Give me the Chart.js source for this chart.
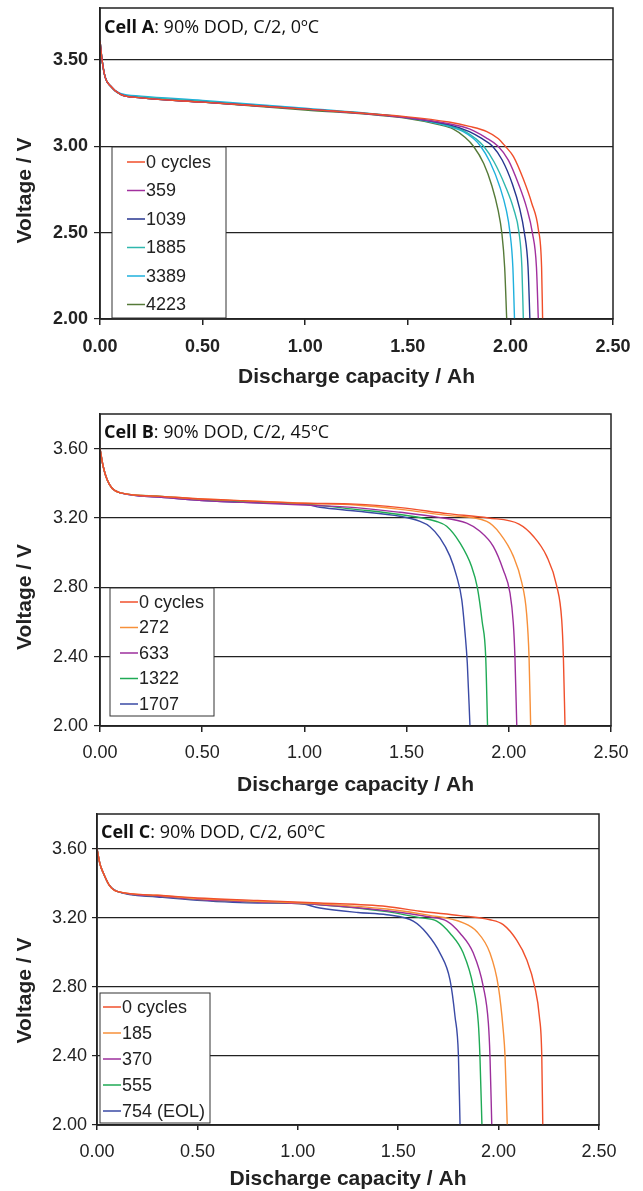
<!DOCTYPE html>
<html>
<head>
<meta charset="utf-8">
<script src="https://cdn.jsdelivr.net/npm/chart.js@4.4.1/dist/chart.umd.min.js"></script>
<style>
  body { margin: 0; background: #fff; width: 643px; height: 1191px; position: relative; overflow: hidden; }
  canvas { position: absolute; left: 0; }
</style>
</head>
<body>
<canvas id="cellA" width="643" height="400" style="top:-10px"></canvas>
<canvas id="cellB" width="643" height="405" style="top:390px"></canvas>
<canvas id="cellC" width="643" height="396" style="top:795px"></canvas>
<script>
// ---- Cell A : 90% DOD, C/2, 0 C ----
const capA0    = [0, 0.01, 0.025, 0.05, 0.1, 0.2, 0.5, 1.0, 1.5, 1.7, 1.8, 1.885, 1.94, 1.975, 2.015, 2.063, 2.104, 2.136, 2.152, 2.157];
const voltA0   = [3.61, 3.50, 3.40, 3.35, 3.30, 3.28, 3.255, 3.215, 3.17, 3.14, 3.115, 3.085, 3.045, 3.00, 2.94, 2.81, 2.67, 2.52, 2.30, 2.00];
const capA359  = [0, 0.01, 0.025, 0.05, 0.1, 0.2, 0.5, 1.0, 1.5, 1.7, 1.8, 1.88, 1.94, 1.99, 2.04, 2.08, 2.107, 2.127, 2.136];
const voltA359 = [3.61, 3.50, 3.40, 3.35, 3.30, 3.28, 3.255, 3.215, 3.165, 3.13, 3.10, 3.05, 3.00, 2.92, 2.78, 2.64, 2.50, 2.30, 2.00];
const capA1039  = [0, 0.01, 0.025, 0.05, 0.1, 0.2, 0.5, 1.0, 1.5, 1.7, 1.8, 1.86, 1.913, 1.96, 2.01, 2.045, 2.068, 2.086, 2.095];
const voltA1039 = [3.61, 3.50, 3.40, 3.35, 3.30, 3.28, 3.255, 3.215, 3.165, 3.125, 3.085, 3.045, 3.00, 2.92, 2.78, 2.64, 2.50, 2.30, 2.00];
const capA1885  = [0, 0.01, 0.025, 0.05, 0.1, 0.2, 0.5, 1.0, 1.5, 1.7, 1.78, 1.83, 1.87, 1.92, 1.975, 2.015, 2.042, 2.056, 2.063];
const voltA1885 = [3.61, 3.50, 3.40, 3.35, 3.30, 3.285, 3.26, 3.215, 3.165, 3.12, 3.085, 3.045, 3.00, 2.91, 2.77, 2.64, 2.50, 2.30, 2.00];
const capA3389  = [0, 0.01, 0.025, 0.05, 0.1, 0.2, 0.5, 1.0, 1.5, 1.7, 1.77, 1.82, 1.855, 1.90, 1.95, 1.98, 1.998, 2.012, 2.02];
const voltA3389 = [3.61, 3.50, 3.40, 3.35, 3.305, 3.29, 3.265, 3.22, 3.165, 3.115, 3.085, 3.045, 3.00, 2.91, 2.76, 2.63, 2.50, 2.30, 2.00];
const capA4223  = [0, 0.01, 0.025, 0.05, 0.1, 0.2, 0.5, 1.0, 1.5, 1.65, 1.72, 1.78, 1.82, 1.87, 1.91, 1.94, 1.958, 1.972, 1.982];
const voltA4223 = [3.61, 3.50, 3.40, 3.35, 3.30, 3.28, 3.255, 3.21, 3.16, 3.125, 3.10, 3.05, 3.00, 2.90, 2.77, 2.63, 2.50, 2.30, 2.00];
const labelsA = ['0 cycles', '359', '1039', '1885', '3389', '4223'];
const colorsA = ['#f04e2a', '#a2309e', '#26358f', '#2fb7ad', '#1fb0dd', '#557a38'];

// ---- Cell B : 90% DOD, C/2, 45 C ----
const capB0    = [0, 0.015, 0.035, 0.06, 0.1, 0.3, 0.5, 0.7, 1.0, 1.25, 1.47, 1.7, 1.9, 2.05, 2.12, 2.185, 2.234, 2.259, 2.267, 2.275];
const voltB0   = [3.60, 3.50, 3.42, 3.37, 3.345, 3.325, 3.31, 3.30, 3.285, 3.28, 3.26, 3.225, 3.20, 3.165, 3.095, 2.98, 2.81, 2.61, 2.40, 2.00];
const capB272  = [0, 0.015, 0.035, 0.06, 0.1, 0.3, 0.5, 0.7, 1.0, 1.25, 1.47, 1.7, 1.892, 1.957, 2.022, 2.063, 2.087, 2.099, 2.107];
const voltB272 = [3.60, 3.50, 3.42, 3.37, 3.345, 3.325, 3.31, 3.30, 3.285, 3.275, 3.25, 3.215, 3.18, 3.11, 2.98, 2.83, 2.65, 2.40, 2.00];
const capB633  = [0, 0.015, 0.035, 0.06, 0.1, 0.3, 0.5, 0.7, 1.0, 1.25, 1.468, 1.65, 1.794, 1.859, 1.924, 1.973, 2.006, 2.022, 2.03, 2.039];
const voltB633 = [3.60, 3.50, 3.42, 3.37, 3.345, 3.32, 3.30, 3.29, 3.275, 3.26, 3.233, 3.205, 3.17, 3.123, 3.036, 2.90, 2.767, 2.594, 2.40, 2.00];
const capB1322  = [0, 0.015, 0.035, 0.06, 0.1, 0.3, 0.5, 0.7, 1.0, 1.25, 1.468, 1.647, 1.696, 1.761, 1.818, 1.846, 1.870, 1.887, 1.896];
const voltB1322 = [3.60, 3.50, 3.42, 3.37, 3.345, 3.325, 3.305, 3.295, 3.28, 3.25, 3.22, 3.18, 3.152, 3.056, 2.92, 2.80, 2.60, 2.40, 2.00];
const capB1707  = [0, 0.015, 0.035, 0.06, 0.1, 0.3, 0.5, 0.7, 1.0, 1.076, 1.25, 1.468, 1.566, 1.614, 1.663, 1.712, 1.745, 1.77, 1.786, 1.797, 1.81];
const voltB1707 = [3.60, 3.50, 3.42, 3.37, 3.345, 3.32, 3.30, 3.29, 3.28, 3.262, 3.24, 3.21, 3.18, 3.15, 3.085, 2.98, 2.863, 2.728, 2.536, 2.362, 2.00];
const labelsB = ['0 cycles', '272', '633', '1322', '1707'];
const colorsB = ['#f0502c', '#f7903a', '#9c2f9c', '#1faa55', '#3a4aa5'];

// ---- Cell C : 90% DOD, C/2, 60 C ----
const capC0    = [0, 0.015, 0.031, 0.06, 0.1, 0.3, 0.5, 0.8, 1.11, 1.443, 1.608, 1.808, 1.957, 2.023, 2.09, 2.14, 2.18, 2.203, 2.215, 2.22];
const voltC0   = [3.60, 3.51, 3.46, 3.39, 3.352, 3.33, 3.314, 3.30, 3.285, 3.265, 3.237, 3.212, 3.188, 3.16, 3.07, 2.957, 2.80, 2.628, 2.40, 2.00];
const capC185  = [0, 0.015, 0.031, 0.06, 0.1, 0.3, 0.5, 0.8, 1.11, 1.443, 1.65, 1.824, 1.891, 1.957, 1.999, 2.023, 2.032, 2.043];
const voltC185 = [3.60, 3.51, 3.46, 3.39, 3.352, 3.33, 3.31, 3.295, 3.28, 3.25, 3.215, 3.17, 3.12, 2.995, 2.80, 2.55, 2.40, 2.00];
const capC370  = [0, 0.015, 0.031, 0.06, 0.1, 0.3, 0.5, 0.8, 1.11, 1.443, 1.65, 1.742, 1.808, 1.874, 1.924, 1.949, 1.957, 1.966];
const voltC370 = [3.60, 3.51, 3.46, 3.39, 3.352, 3.325, 3.305, 3.29, 3.275, 3.24, 3.205, 3.18, 3.11, 2.995, 2.80, 2.59, 2.40, 2.00];
const capC555  = [0, 0.015, 0.031, 0.06, 0.1, 0.3, 0.5, 0.8, 1.11, 1.443, 1.608, 1.692, 1.758, 1.824, 1.874, 1.899, 1.907, 1.917];
const voltC555 = [3.60, 3.51, 3.46, 3.39, 3.352, 3.325, 3.305, 3.29, 3.275, 3.235, 3.20, 3.18, 3.11, 2.995, 2.80, 2.59, 2.40, 2.00];
const capC754  = [0, 0.015, 0.031, 0.06, 0.1, 0.3, 0.5, 0.8, 0.994, 1.11, 1.3, 1.443, 1.575, 1.642, 1.708, 1.758, 1.783, 1.80, 1.808];
const voltC754 = [3.60, 3.51, 3.46, 3.39, 3.352, 3.32, 3.30, 3.285, 3.285, 3.256, 3.23, 3.217, 3.18, 3.11, 2.995, 2.84, 2.628, 2.40, 2.00];
const labelsC = ['0 cycles', '185', '370', '555', '754 (EOL)'];
const colorsC = ['#f0502c', '#f7903a', '#9c2f9c', '#1faa55', '#3a4aa5'];

const xTicks = [0, 0.5, 1.0, 1.5, 2.0, 2.5];

const INK = '#222';
const SANS = '"Liberation Sans", Arial, sans-serif';

function toPoints(cap, volt) {
    return cap.map((c, i) => ({ x: c, y: volt[i] }));
}

// frame round the plot, the cell title, the y title and the boxed legend
const framePlugin = {
    id: 'cellFrame',
    afterDatasetsDraw(chart, args, opts) {
        const ctx = chart.ctx;
        const a = chart.chartArea;
        ctx.save();
        ctx.strokeStyle = INK;
        ctx.lineWidth = 1.5;
        ctx.strokeRect(a.left, a.top, a.right - a.left, a.bottom - a.top);

        // title: bold cell name, then regular text
        ctx.fillStyle = '#111';
        ctx.textBaseline = 'alphabetic';
        ctx.textAlign = 'left';
        const tx = a.left + 4, ty = a.top + opts.titleDy;
        ctx.font = 'bold 18px "Open Sans", sans-serif';
        ctx.fillText(opts.title[0], tx, ty);
        const w = ctx.measureText(opts.title[0]).width;
        ctx.font = '18px "Open Sans", sans-serif';
        ctx.fillText(opts.title[1], tx + w, ty);

        // y axis title, sits a bit below the middle of the plot
        ctx.save();
        ctx.translate(25, (a.top + a.bottom) / 2 + opts.yTitleDy);
        ctx.rotate(-Math.PI / 2);
        ctx.textAlign = 'center';
        ctx.textBaseline = 'middle';
        ctx.fillStyle = INK;
        ctx.font = 'bold 21px ' + SANS;
        ctx.fillText('Voltage / V', 0, 0);
        ctx.restore();

        // legend box
        const L = opts.legend;
        const bx = a.left + L.dx, by = a.top + L.dy;
        ctx.fillStyle = '#fff';
        ctx.fillRect(bx, by, L.w, L.h);
        ctx.strokeStyle = '#333';
        ctx.lineWidth = 1;
        ctx.strokeRect(bx, by, L.w, L.h);
        ctx.font = L.font + 'px ' + SANS;
        ctx.textBaseline = 'middle';
        ctx.textAlign = 'left';
        chart.data.datasets.forEach((ds, i) => {
            const ry = by + L.row0 + i * L.rowH;
            ctx.strokeStyle = ds.borderColor;
            ctx.lineWidth = 1.5;
            ctx.beginPath();
            ctx.moveTo(bx + L.line0, ry);
            ctx.lineTo(bx + L.line1, ry);
            ctx.stroke();
            ctx.fillStyle = '#222';
            ctx.fillText(ds.label, bx + L.line1 + 1, ry + 1);
        });
        ctx.restore();
    }
};

function makeChart(id, s) {
    const datasets = s.labels.map((lab, i) => ({
        label: lab,
        data: toPoints(s.caps[i], s.volts[i]),
        borderColor: s.colors[i],
        borderWidth: 1.4,
        pointRadius: 0,
        fill: false,
        cubicInterpolationMode: 'monotone'
    }));
    const tickFont = { family: SANS, size: 18, weight: s.boldTicks ? 'bold' : 'normal' };
    return new Chart(document.getElementById(id), {
        type: 'line',
        data: { datasets: datasets },
        options: {
            responsive: false,
            animation: false,
            layout: { padding: { top: s.padTop, right: s.padRight, left: 0, bottom: 0 } },
            plugins: {
                legend: { display: false },
                tooltip: { enabled: false },
                cellFrame: { title: s.title, titleDy: s.titleDy, legend: s.legend, yTitleDy: s.yTitleDy }
            },
            scales: {
                x: {
                    type: 'linear',
                    min: xTicks[0],
                    max: xTicks[xTicks.length - 1],
                    afterBuildTicks: sc => { sc.ticks = xTicks.map(v => ({ value: v })); },
                    ticks: { callback: v => Number(v).toFixed(2), padding: s.xPad, color: INK, font: tickFont, maxRotation: 0, autoSkip: false },
                    grid: { drawOnChartArea: false, tickLength: s.tickLen, color: INK, lineWidth: 1.5 },
                    border: { color: INK, width: 1.5 },
                    title: { display: true, text: 'Discharge capacity / Ah', color: INK,
                             font: { family: SANS, size: 21, weight: 'bold' }, padding: { top: 0, bottom: s.xTitlePad } },
                    afterFit: sc => { sc.height = s.xHeight; }
                },
                y: {
                    min: s.yTicks[0],
                    max: s.yMax,
                    afterBuildTicks: sc => { sc.ticks = s.yTicks.map(v => ({ value: v })); },
                    ticks: { callback: v => Number(v).toFixed(2), padding: s.yPad, color: INK, font: tickFont },
                    grid: { tickLength: s.tickLen, color: INK, lineWidth: 1.2 },
                    border: { color: INK, width: 1.5 },
                    afterFit: sc => { sc.width = s.left; }
                }
            }
        },
        plugins: [framePlugin]
    });
}

makeChart('cellA', {
    labels: labelsA, colors: colorsA,
    caps: [capA0, capA359, capA1039, capA1885, capA3389, capA4223],
    volts: [voltA0, voltA359, voltA1039, voltA1885, voltA3389, voltA4223],
    yTicks: [2.0, 2.5, 3.0, 3.5], yMax: 3.8,
    boldTicks: true,
    padTop: 18, padRight: 30, left: 100, xHeight: 71,
    xPad: 11, yPad: 6, tickLen: 6, xTitlePad: 0,
    title: ['Cell A', ': 90% DOD, C/2, 0ºC'], titleDy: 25, yTitleDy: 27,
    legend: { dx: 12, dy: 139, w: 114, h: 171, row0: 15, rowH: 28.5, line0: 15, line1: 33, font: 18 }
});

makeChart('cellB', {
    labels: labelsB, colors: colorsB,
    caps: [capB0, capB272, capB633, capB1322, capB1707],
    volts: [voltB0, voltB272, voltB633, voltB1322, voltB1707],
    yTicks: [2.0, 2.4, 2.8, 3.2, 3.6], yMax: 3.8,
    boldTicks: false,
    padTop: 24, padRight: 32, left: 100, xHeight: 69,
    xPad: 10, yPad: 6, tickLen: 6, xTitlePad: -3,
    title: ['Cell B', ': 90% DOD, C/2, 45ºC'], titleDy: 24, yTitleDy: 27,
    legend: { dx: 10, dy: 174, w: 104, h: 128, row0: 14, rowH: 25.5, line0: 10, line1: 28, font: 18 }
});

makeChart('cellC', {
    labels: labelsC, colors: colorsC,
    caps: [capC0, capC185, capC370, capC555, capC754],
    volts: [voltC0, voltC185, voltC370, voltC555, voltC754],
    yTicks: [2.0, 2.4, 2.8, 3.2, 3.6], yMax: 3.8,
    boldTicks: false,
    padTop: 19, padRight: 44, left: 97, xHeight: 66,
    xPad: 11, yPad: 5, tickLen: 5, xTitlePad: -1,
    title: ['Cell C', ': 90% DOD, C/2, 60ºC'], titleDy: 24, yTitleDy: 21,
    legend: { dx: 3, dy: 179, w: 110, h: 130, row0: 14, rowH: 26, line0: 3, line1: 21, font: 18 }
});
</script>
</body>
</html>
